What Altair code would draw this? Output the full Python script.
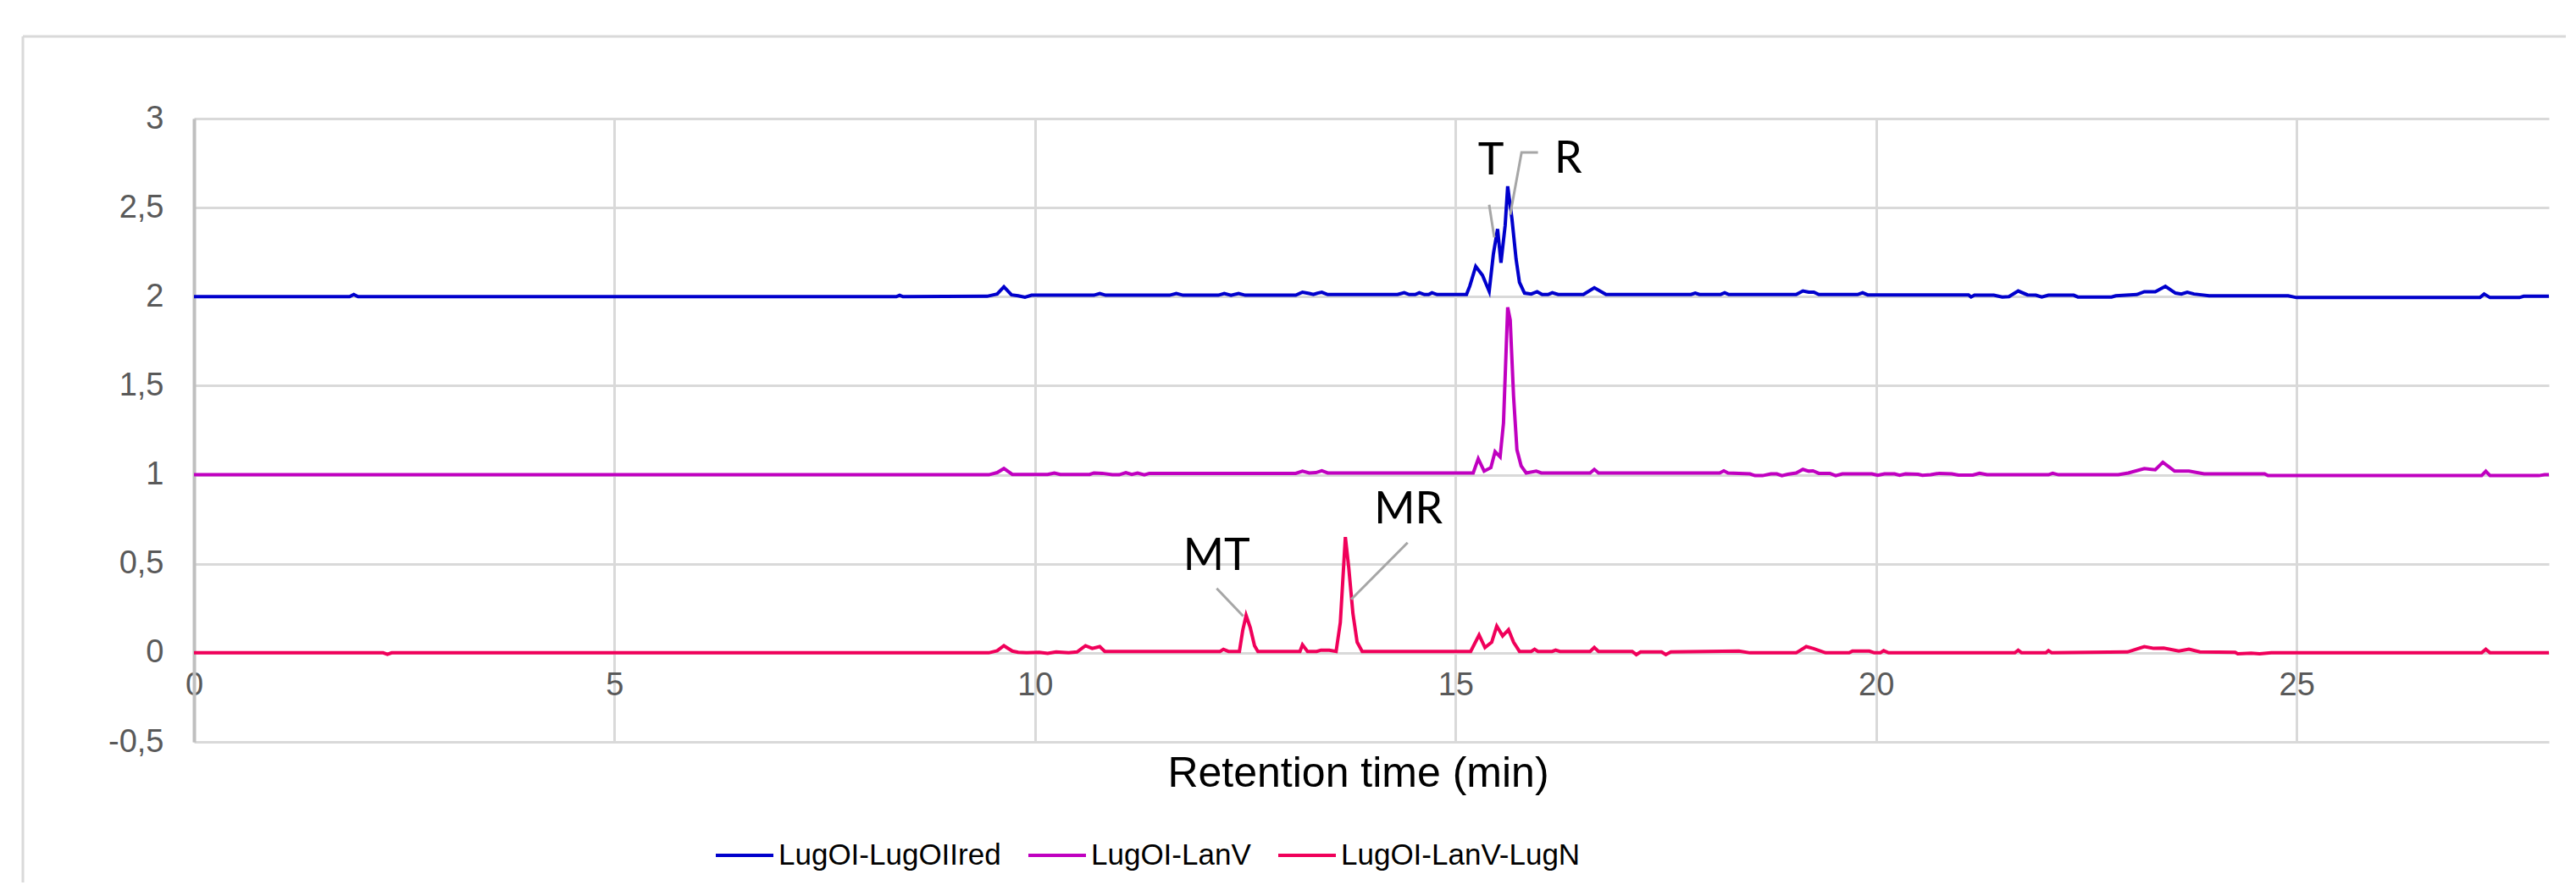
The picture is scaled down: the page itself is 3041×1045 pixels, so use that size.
import altair as alt
import pandas as pd

# ---------------- data ----------------
series_names = ["LugOI-LugOIIred", "LugOI-LanV", "LugOI-LanV-LugN"]
series_colors = ["#0000CC", "#C000C0", "#F0005A"]

blue_t = [0, 1.85, 1.9, 1.95, 8.35, 8.39, 8.43, 9.43, 9.55, 9.63, 9.72, 9.8, 9.88, 9.96,
          10.7, 10.77, 10.84, 11.6, 11.68, 11.76, 12.18, 12.25, 12.33, 12.42, 12.5,
          13.1, 13.18, 13.26, 13.31, 13.36, 13.41, 13.48, 14.31, 14.39, 14.45, 14.52,
          14.57, 14.63, 14.68, 14.72, 14.78, 15.13, 15.17, 15.24, 15.32, 15.40, 15.45,
          15.50, 15.54, 15.59, 15.62, 15.67, 15.72, 15.76, 15.82, 15.90, 15.97, 16.03,
          16.1, 16.15, 16.22, 16.52, 16.65, 16.79, 17.8, 17.85, 17.9, 18.15, 18.2, 18.25,
          19.05, 19.13, 19.2, 19.26, 19.32, 19.78, 19.84, 19.9, 21.1, 21.13, 21.17, 21.4,
          21.5, 21.58, 21.69, 21.8, 21.9, 21.97, 22.05, 22.35, 22.4, 22.8, 22.85, 23.1,
          23.19, 23.32, 23.44, 23.56, 23.63, 23.70, 23.78, 23.96, 24.9, 25.0, 27.18,
          27.23, 27.3, 27.65, 27.7, 28.0]
blue_v = [2.0, 2.0, 2.012, 2.0, 2.0, 2.008, 2.0, 2.002, 2.015, 2.055, 2.01, 2.005, 1.997, 2.008,
          2.008, 2.018, 2.008, 2.008, 2.018, 2.008, 2.008, 2.018, 2.008, 2.018, 2.008,
          2.008, 2.025, 2.018, 2.012, 2.02, 2.025, 2.012, 2.012, 2.022, 2.012, 2.012,
          2.022, 2.012, 2.012, 2.022, 2.012, 2.012, 2.06, 2.17, 2.12, 2.03, 2.24,
          2.38, 2.19, 2.40, 2.62, 2.44, 2.21, 2.08, 2.02, 2.015, 2.028, 2.012,
          2.012, 2.022, 2.012, 2.012, 2.05, 2.012, 2.012, 2.02, 2.012, 2.012, 2.022, 2.012,
          2.012, 2.032, 2.025, 2.025, 2.012, 2.012, 2.022, 2.01, 2.01, 1.998, 2.008, 2.008,
          1.998, 2.0, 2.032, 2.01, 2.008, 1.998, 2.008, 2.008, 1.998, 1.998, 2.005, 2.012,
          2.028, 2.028, 2.058, 2.02, 2.015, 2.025, 2.015, 2.005, 2.005, 1.995, 1.995,
          2.015, 1.995, 1.995, 2.002, 2.002]

mag_t = [0, 9.45, 9.55, 9.63, 9.73, 10.15, 10.23, 10.3, 10.65, 10.7, 10.8, 10.92, 11.0,
         11.08, 11.15, 11.22, 11.3, 11.36, 13.1, 13.18, 13.26, 13.34, 13.41, 13.48, 15.21,
         15.27, 15.34, 15.42, 15.47, 15.53, 15.57, 15.62, 15.65, 15.69, 15.73, 15.78, 15.84,
         15.96, 16.02, 16.6, 16.65, 16.7, 18.14, 18.19, 18.24, 18.5, 18.56, 18.65, 18.75,
         18.82, 18.88, 18.95, 19.05, 19.13, 19.2, 19.25, 19.32, 19.45, 19.52, 19.6, 19.95,
         20.02, 20.1, 20.22, 20.28, 20.35, 20.5, 20.55, 20.65, 20.75, 20.9, 20.98, 21.15,
         21.23, 21.32, 22.05, 22.1, 22.17, 22.88, 23.0, 23.19, 23.32, 23.41, 23.55, 23.72,
         23.9, 24.62, 24.66, 27.2, 27.25, 27.3, 27.88, 27.95, 28.0]
mag_v = [1.0, 1.0, 1.012, 1.035, 1.002, 1.002, 1.01, 1.002, 1.002, 1.01, 1.008, 1.0, 1.0,
         1.012, 1.002, 1.01, 1.0, 1.008, 1.008, 1.02, 1.01, 1.012, 1.022, 1.01, 1.01,
         1.09, 1.02, 1.04, 1.13, 1.10, 1.29, 1.94, 1.87, 1.44, 1.14, 1.05, 1.01,
         1.02, 1.01, 1.01, 1.03, 1.01, 1.01, 1.022, 1.01, 1.005, 0.995, 0.995, 1.005,
         1.005, 0.995, 1.003, 1.01, 1.03, 1.02, 1.022, 1.008, 1.008, 0.995, 1.005, 1.005,
         0.997, 1.005, 1.005, 0.997, 1.005, 1.003, 0.997, 1.0, 1.008, 1.005, 0.998, 0.998,
         1.008, 1.0, 1.0, 1.008, 1.0, 1.0, 1.01, 1.035, 1.028, 1.07, 1.02, 1.02,
         1.005, 1.005, 0.995, 0.995, 1.02, 0.995, 0.995, 1.0, 1.0]

red_t = [0, 2.25, 2.3, 2.35, 9.45, 9.55, 9.63, 9.73, 9.8, 9.9, 10.05, 10.15, 10.25, 10.4,
         10.5, 10.6, 10.68, 10.77, 10.83, 12.2, 12.24, 12.3, 12.43, 12.47, 12.51, 12.56,
         12.61, 12.65, 13.15, 13.18, 13.24, 13.35, 13.40, 13.5, 13.58, 13.63, 13.69, 13.73,
         13.78, 13.83, 13.89, 15.18, 15.28, 15.35, 15.43, 15.49, 15.56, 15.63, 15.69, 15.76,
         15.9, 15.94, 15.98, 16.15, 16.19, 16.24, 16.6, 16.65, 16.7, 17.1, 17.15, 17.2,
         17.45, 17.5, 17.56, 18.37, 18.5, 19.05, 19.17, 19.25, 19.4, 19.68, 19.72, 19.92,
         19.98, 20.05, 20.09, 20.15, 21.65, 21.69, 21.73, 22.02, 22.05, 22.09, 22.99, 23.19,
         23.3, 23.42, 23.6, 23.72, 23.85, 24.27, 24.3, 24.46, 24.56, 24.7, 27.2, 27.25,
         27.3, 28.0]
red_v = [0.0, 0.0, -0.008, 0.0, 0.0, 0.012, 0.04, 0.01, 0.003, 0.0, 0.003, -0.003, 0.005, 0.0,
         0.005, 0.04, 0.025, 0.035, 0.008, 0.008, 0.02, 0.008, 0.008, 0.127, 0.21, 0.14,
         0.04, 0.008, 0.008, 0.045, 0.008, 0.008, 0.015, 0.015, 0.008, 0.17, 0.65, 0.48,
         0.22, 0.06, 0.008, 0.008, 0.10, 0.03, 0.06, 0.15, 0.095, 0.13, 0.06, 0.008,
         0.008, 0.02, 0.008, 0.008, 0.015, 0.008, 0.008, 0.03, 0.008, 0.008, -0.01, 0.005,
         0.005, -0.01, 0.005, 0.01, 0.0, 0.0, 0.035, 0.025, 0.0, 0.0, 0.01, 0.01,
         0.0, 0.0, 0.012, 0.0, 0.0, 0.015, 0.0, 0.0, 0.012, 0.0, 0.005, 0.035,
         0.025, 0.027, 0.01, 0.02, 0.005, 0.003, -0.005, -0.002, -0.005, 0.0, 0.0, 0.02,
         0.0, 0.0]

x_ticks = [0, 5, 10, 15, 20, 25]
y_ticks = [-0.5, 0, 0.5, 1, 1.5, 2, 2.5, 3]
x_title = "Retention time (min)"

# peak annotations (label, x, y) and their leader lines (segment id, x, y)
ann_text = ["T", "R", "MT", "MR"]
ann_x = [15.42, 16.34, 12.16, 14.44]
ann_y = [2.685, 2.695, 0.467, 0.729]
lead_seg = ["T", "T", "R", "R", "R", "MT", "MT", "MR", "MR"]
lead_x = [15.40, 15.46, 15.98, 15.785, 15.65, 12.16, 12.475, 14.43, 13.76]
lead_y = [2.516, 2.333, 2.81, 2.81, 2.46, 0.362, 0.206, 0.619, 0.30]

# ---------------- tables ----------------
rows = []
for name, ts, vs in zip(series_names, [blue_t, mag_t, red_t], [blue_v, mag_v, red_v]):
    for i, (t, v) in enumerate(zip(ts, vs)):
        rows.append({"series": name, "t": t, "v": v, "o": i})
df = pd.DataFrame(rows)
ann_df = pd.DataFrame({"label": ann_text, "t": ann_x, "v": ann_y})
lead_df = pd.DataFrame({"seg": lead_seg, "t": lead_x, "v": lead_y,
                        "o": list(range(len(lead_seg)))})

AXFONT = "Liberation Sans"
xscale = alt.Scale(domain=[0, 28], nice=False, zero=False)
yscale = alt.Scale(domain=[-0.5, 3], nice=False, zero=False)

x_enc = alt.X("t:Q", scale=xscale, axis=alt.Axis(
    values=x_ticks, title=x_title, grid=True, gridColor="#D9D9D9", gridWidth=3,
    domain=False, ticks=False, tickSize=0, labelFlush=False, labelOverlap=False,
    labelExpr="toString(datum.value)",
    labelBaseline="alphabetic", labelPadding=-56, labelFont=AXFONT, labelFontSize=38,
    labelColor="#595959", titleFont=AXFONT, titleFontSize=50, titleFontWeight="normal",
    titleColor="#000000", titleX=1374, titleY=52, titleBaseline="alphabetic",
    titleAlign="center"))
y_enc = alt.Y("v:Q", scale=yscale, axis=alt.Axis(
    values=y_ticks, title=None, grid=True, gridColor="#D9D9D9", gridWidth=3,
    domain=True, domainColor="#BFBFBF", domainWidth=4, ticks=False, tickSize=0,
    labelFlush=False, labelOverlap=False, labelPadding=36, labelFont=AXFONT,
    labelFontSize=38, labelColor="#595959",
    labelExpr="replace(toString(datum.value), '.', ',')"))

lines = alt.Chart(df).mark_line(strokeWidth=4, interpolate="linear").encode(
    x=x_enc, y=y_enc,
    color=alt.Color("series:N", sort=series_names,
                    scale=alt.Scale(domain=series_names, range=series_colors),
                    legend=alt.Legend(orient="none", legendX=614, legendY=834,
                                      direction="horizontal", title=None,
                                      symbolType="stroke", symbolSize=4624,
                                      symbolStrokeWidth=4, labelFont=AXFONT,
                                      labelFontSize=35, labelColor="#000000",
                                      labelLimit=0, columnPadding=24, labelOffset=4)),
    order=alt.Order("o:Q"))

leaders = alt.Chart(lead_df).mark_line(color="#A6A6A6", strokeWidth=3).encode(
    x=alt.X("t:Q", scale=xscale), y=alt.Y("v:Q", scale=yscale),
    detail="seg:N", order=alt.Order("o:Q"))

labels = alt.Chart(ann_df).mark_text(font="Lato", fontSize=52, color="#000000",
                                     baseline="alphabetic", align="center").encode(
    x=alt.X("t:Q", scale=xscale), y=alt.Y("v:Q", scale=yscale), text="label:N")

border_left = alt.Chart(pd.DataFrame({"a": [0]})).mark_rule(color="#D9D9D9", strokeWidth=3).encode(
    x=alt.value(-202), y=alt.value(-97), y2=alt.value(1000))
border_top = alt.Chart(pd.DataFrame({"a": [0]})).mark_rule(color="#D9D9D9", strokeWidth=3).encode(
    x=alt.value(-202), x2=alt.value(3000), y=alt.value(-97))

chart = alt.layer(border_left, border_top, lines, leaders, labels).properties(
    width=2780, height=736,
    padding={"left": 221, "top": 132, "right": 20, "bottom": 166},
    autosize=alt.AutoSizeParams(type="none"),
    background="#FFFFFF",
).configure_view(stroke=None)

chart.save("out.html", embed_options={"renderer": "svg", "actions": False})
